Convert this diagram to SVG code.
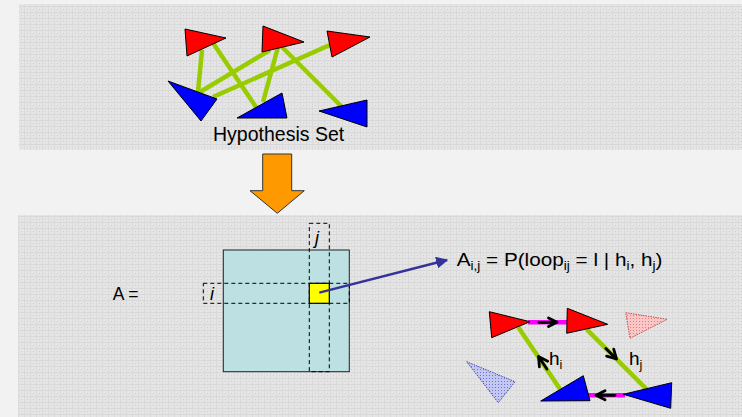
<svg xmlns="http://www.w3.org/2000/svg" width="742" height="417" viewBox="0 0 742 417">
  <defs>
    <pattern id="paper" width="6" height="6" patternUnits="userSpaceOnUse">
      <rect width="6" height="6" fill="#e5e5e5"/>
      <rect width="6" height="1" fill="#d8d8d8"/>
      <rect width="1" height="6" fill="#dadada"/>
      <rect x="3" y="3" width="1" height="1" fill="#cccccc"/>
    </pattern>
    <pattern id="pinkHatch" width="3" height="3" patternUnits="userSpaceOnUse">
      <rect width="3" height="3" fill="#f8c8c8"/>
      <rect width="1" height="1" fill="#e87878"/>
    </pattern>
    <pattern id="blueHatch" width="3" height="3" patternUnits="userSpaceOnUse">
      <rect width="3" height="3" fill="#c4c8f0"/>
      <rect width="1" height="1" fill="#6a72d8"/>
    </pattern>
    <marker id="blueHead" viewBox="0 0 10 10" refX="9" refY="5" markerWidth="5" markerHeight="5" orient="auto" markerUnits="strokeWidth">
      <path d="M0,0 L10,5 L0,10 z" fill="#333399"/>
    </marker>
  </defs>
  <style>
    .txt { font-family: "Liberation Sans", Arial, sans-serif; fill: #000; }
    .red { fill: #ff0000; stroke: #000; stroke-width: 1; }
    .blue { fill: #0000ff; stroke: #000; stroke-width: 1; }
    .link { stroke: #99cc00; stroke-width: 4.5; fill: none; }
    .pair { stroke: #ff00ff; stroke-width: 4.5; fill: none; }
    .dir { stroke: #000; stroke-width: 2.8; fill: none; stroke-linecap: round; stroke-linejoin: round; }
    .dash { fill: none; stroke: #000; stroke-width: 1; stroke-dasharray: 4 3; }
  </style>

  <!-- page and panels -->
  <rect width="742" height="417" fill="#f2f2f2"/>
  <rect x="19" y="4" width="723" height="146" fill="url(#paper)"/>
  <rect x="18" y="215" width="724" height="202" fill="url(#paper)"/>

  <!-- hypothesis set -->
  <g id="hypothesis-set">
    <g id="hyp-links">
      <line class="link" x1="202" y1="50" x2="198" y2="92"/>
      <line class="link" x1="213" y1="43" x2="256" y2="107"/>
      <line class="link" x1="278" y1="47" x2="263" y2="102"/>
      <line class="link" x1="282" y1="47" x2="342" y2="107"/>
      <line class="link" x1="200" y1="92" x2="270" y2="50"/>
      <line class="link" x1="213" y1="97" x2="332" y2="44"/>
    </g>
    <polygon class="red" points="185,29 226,38 187,56"/>
    <polygon class="red" points="263,26 304,42 262,52"/>
    <polygon class="red" points="327,31 370,37 332,57"/>
    <polygon class="blue" points="168,81 217,99 201,121"/>
    <polygon class="blue" points="282,93 287,118 237,118"/>
    <polygon class="blue" points="319,111 367,100 367,127"/>
    <text class="txt" x="213" y="141" font-size="19.5">Hypothesis Set</text>
  </g>

  <!-- transition arrow -->
  <g id="down-arrow">
    <polygon points="262.7,154 291.7,154 291.7,190.7 304.3,190.7 277.3,213.3 250,190.7 262.7,190.7" fill="#ff9900" stroke="#333" stroke-width="1"/>
  </g>

  <!-- affinity matrix -->
  <g id="matrix">
    <text class="txt" x="112.7" y="299.5" font-size="17.5">A =</text>
    <rect x="223.3" y="250" width="126" height="121.7" fill="#bde0e2" stroke="#222" stroke-width="1"/>
    <rect class="dash" x="309.3" y="223.3" width="20" height="148.4"/>
    <rect class="dash" x="203.3" y="283.3" width="146" height="20"/>
    <rect x="309.3" y="283.3" width="20" height="20" fill="#ffff00" stroke="#000" stroke-width="1.2"/>
    <text class="txt" x="315" y="244" font-size="18" font-style="italic">j</text>
    <text class="txt" x="210" y="300" font-size="18" font-style="italic">i</text>
  </g>

  <!-- connector to the entry definition -->
  <g id="connectors">
    <line x1="319.3" y1="292.7" x2="447" y2="260" stroke="#333399" stroke-width="2.4" marker-end="url(#blueHead)"/>
  </g>

  <g id="entry-definition" transform="translate(456.7,266) scale(1.09,1)">
    <text class="txt" x="0" y="0" font-size="19">A<tspan font-size="12.5" dy="4">i,j</tspan><tspan dy="-4"> = P(loop</tspan><tspan font-size="12.5" dy="4">ij</tspan><tspan dy="-4"> = l | h</tspan><tspan font-size="12.5" dy="4">i</tspan><tspan dy="-4">, h</tspan><tspan font-size="12.5" dy="4">j</tspan><tspan dy="-4">)</tspan></text>
  </g>

  <!-- loop example -->
  <g id="loop-example">
    <polygon points="625.7,312.7 667.3,319.3 630,338.3" fill="url(#pinkHatch)" stroke="#c05050" stroke-width="1" stroke-dasharray="1.5 1"/>
    <polygon points="466.7,361.7 515,381.7 498.3,402.7" fill="url(#blueHatch)" stroke="#4a50a0" stroke-width="1" stroke-dasharray="1.5 1"/>

    <line class="pair" x1="528" y1="322.3" x2="568" y2="322.3"/>
    <line class="pair" x1="588" y1="395.3" x2="625" y2="395.3"/>
    <line class="link" x1="518.3" y1="327.3" x2="560" y2="389"/>
    <line class="link" x1="586.7" y1="329.3" x2="646.7" y2="389.3"/>

    <polygon class="red" points="489.3,311.7 530,321.7 491.7,337.7"/>
    <polygon class="red" points="567.3,308.3 607.7,324.3 566.7,333.3"/>
    <polygon class="blue" points="583.3,375.7 590,400.7 540.7,401"/>
    <polygon class="blue" points="671.7,382.7 670.7,408.3 623.3,394.3"/>

    <!-- direction marks -->
    <path class="dir" d="M539,322.3 L557,322.3 M548.5,318 L557,322.3 L548.5,326.6"/>
    <path class="dir" d="M615,395.3 L596,395.3 M605,390.8 L596,395.3 L605,399.8"/>
    <path class="dir" d="M546.9,369 L538.5,356.5 M547.7,361.2 L538.5,356.5 L539.4,366.8"/>
    <path class="dir" d="M605.9,348.4 L616.5,359 M613.7,349.1 L616.5,359 L606.6,356.2"/>

    <text class="txt" x="549" y="365" font-size="19">h<tspan font-size="12.5" dy="4">i</tspan></text>
    <text class="txt" x="629" y="365" font-size="19">h<tspan font-size="12.5" dy="4">j</tspan></text>
  </g>
</svg>
